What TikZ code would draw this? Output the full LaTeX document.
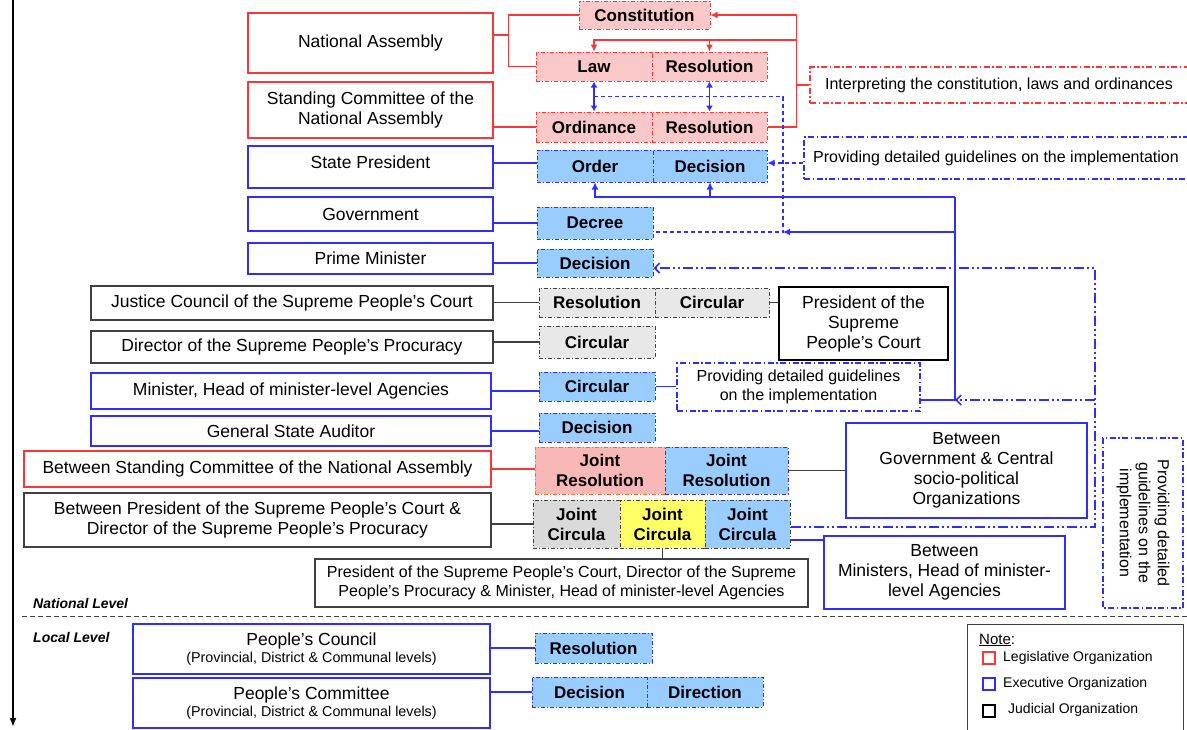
\documentclass[tikz,border=0pt]{standalone}
\usepackage{fontspec}
\setmainfont{Liberation Sans}
\usetikzlibrary{arrows.meta,calc}
\definecolor{lred}{HTML}{FF3434}
\definecolor{lblue}{HTML}{2E2EFF}
\definecolor{pinkf}{HTML}{FAC8C8}
\definecolor{bluef}{HTML}{99CCFF}
\definecolor{grayf}{HTML}{E8E8E8}
\definecolor{grayf2}{HTML}{DADADA}
\definecolor{yellowf}{HTML}{FFFF66}
\definecolor{jpink}{HTML}{F8B8B8}
\definecolor{orangeb}{HTML}{FF6A2A}
\definecolor{dgray}{HTML}{404040}
\begin{document}
\begin{tikzpicture}[x=1pt,y=-1pt,
  every node/.style={inner sep=0pt, align=center},
  ft/.style={font=\fontsize{17.5}{20}\selectfont},
  org/.style={draw, line width=1.3pt, ft},
  orgr/.style={org, draw=lred},
  orgb/.style={org, draw=lblue},
  orgk/.style={org, draw=dgray},
  doc/.style={draw, line width=1pt, dash pattern=on 4pt off 2pt on 1pt off 2pt, font=\bfseries\fontsize{17}{20}\selectfont},
  docr/.style={doc, draw=lred, fill=pinkf},
  docb/.style={doc, draw=lblue, fill=bluef},
  docg/.style={doc, draw=dgray, fill=grayf},
  notebox/.style={draw, line width=1.1pt, dash pattern=on 6pt off 2.5pt on 1.5pt off 2.5pt, font=\fontsize{16}{19}\selectfont},
  rl/.style={draw=lred, line width=1.2pt},
  bl/.style={draw=lblue, line width=1.2pt},
  gl/.style={draw=dgray, line width=1.2pt},
  bdash/.style={draw=lblue, line width=1.2pt, dash pattern=on 4pt off 3pt},
  bdd/.style={draw=lblue, line width=1.6pt, dash pattern=on 10pt off 3pt on 2pt off 3pt on 2pt off 3pt},
  rtip/.style={-{Latex[length=7pt,width=7pt]}},
  btip/.style={-{Straight Barb[length=5pt,width=10pt]}},
  sub/.style={font=\fontsize{14.3}{16}\selectfont},
]
\useasboundingbox (0,0) rectangle (1187,729);

% ---------- organisations ----------
\node[orgr, minimum width=245pt, minimum height=60pt] (na) at (370.5,43) {National Assembly};
\node[orgr, minimum width=245pt, minimum height=56pt] (sc) at (370.5,110) {Standing Committee of the\\National Assembly};
\node[orgb, minimum width=245pt, minimum height=42pt, text depth=10pt] (sp) at (370.5,167) {State President};
\node[orgb, minimum width=245pt, minimum height=34pt] (gov) at (370.5,214) {Government};
\node[orgb, minimum width=245pt, minimum height=31pt] (pm) at (370.5,258.5) {Prime Minister};
\node[orgk, minimum width=402pt, minimum height=34pt] (jc) at (292,303) {Justice Council of the Supreme People’s Court};
\node[orgk, minimum width=402pt, minimum height=32pt] (dir) at (292,347) {Director of the Supreme People’s Procuracy};
\node[orgb, minimum width=400pt, minimum height=36pt] (min) at (291,391) {Minister, Head of minister-level Agencies};
\node[orgb, minimum width=400pt, minimum height=30pt] (gsa) at (291,431) {General State Auditor};
\node[orgr, minimum width=467pt, minimum height=36pt] (bsc) at (257.5,469) {Between Standing Committee of the National Assembly};
\node[orgk, minimum width=467pt, minimum height=54pt] (bpc) at (257.5,520) {Between President of the Supreme People’s Court \&\\Director of the Supreme People’s Procuracy};
\node[orgk, minimum width=493pt, minimum height=48pt, font=\fontsize{16}{19}\selectfont] (pres3) at (561.5,583) {President of the Supreme People’s Court, Director of the Supreme\\People’s Procuracy \& Minister, Head of minister-level Agencies};
\node[orgb, line width=2.4pt, minimum width=357pt, minimum height=50pt] (pcouncil) at (311.5,649) {People’s Council\\[-3pt]{\fontsize{14.3}{16}\selectfont (Provincial, District \& Communal levels)}};
\node[orgb, line width=2.4pt, minimum width=357pt, minimum height=50pt] (pcommittee) at (311.5,703) {People’s Committee\\[-3pt]{\fontsize{14.3}{16}\selectfont (Provincial, District \& Communal levels)}};

% ---------- documents ----------
\node[docr, minimum width=131pt, minimum height=28pt] (const) at (644.5,15) {Constitution};
\node[docr, minimum width=116pt, minimum height=29pt] (law) at (594,66.5) {Law};
\node[docr, minimum width=115pt, minimum height=29pt] (res1) at (709.5,66.5) {Resolution};
\node[docr, minimum width=116pt, minimum height=30pt] (ord) at (594,127) {Ordinance};
\node[docr, minimum width=115pt, minimum height=30pt] (res2) at (709.5,127) {Resolution};
\node[docb, minimum width=116pt, minimum height=32pt] (order) at (595,166) {Order};
\node[docb, minimum width=114pt, minimum height=32pt] (dec1) at (710,166) {Decision};
\node[docb, minimum width=116pt, minimum height=32pt] (decree) at (595,223) {Decree};
\node[docb, minimum width=116pt, minimum height=28pt] (dec2) at (595,263) {Decision};
\node[docg, minimum width=116pt, minimum height=29pt] (res3) at (597,302.5) {Resolution};
\node[docg, minimum width=114pt, minimum height=29pt] (circ1) at (712,302.5) {Circular};
\node[docg, minimum width=116pt, minimum height=32pt] (circ2) at (597,342) {Circular};
\node[docb, minimum width=116pt, minimum height=29pt] (circ3) at (597,386.5) {Circular};
\node[docb, minimum width=116pt, minimum height=29pt] (dec3) at (597,427.5) {Decision};
\node[doc, draw=orangeb, fill=jpink, minimum width=130pt, minimum height=47pt] (jres1) at (600,470.5) {Joint\\Resolution};
\node[docb, minimum width=123pt, minimum height=47pt] (jres2) at (726.5,470.5) {Joint\\Resolution};
\node[doc, draw=dgray, fill=grayf2, minimum width=87pt, minimum height=48pt] (jc1) at (576.5,524) {Joint\\Circula};
\node[doc, draw=dgray, fill=yellowf, minimum width=85pt, minimum height=48pt] (jc2) at (662.5,524) {Joint\\Circula};
\node[doc, draw=dgray, fill=bluef, minimum width=85pt, minimum height=48pt] (jc3) at (747.5,524) {Joint\\Circula};
\node[docb, minimum width=117pt, minimum height=30pt] (lres) at (593.5,648) {Resolution};
\node[docb, minimum width=115pt, minimum height=30pt] (ldec) at (589.5,692) {Decision};
\node[docb, minimum width=116pt, minimum height=30pt] (ldir) at (705,692) {Direction};

% ---------- notes ----------
\node[notebox, draw=lred, minimum width=378pt, minimum height=36pt] (interp) at (999,85) {Interpreting the constitution, laws and ordinances};
\node[notebox, draw=lblue, minimum width=384pt, minimum height=42pt] (prov1) at (996,158) {Providing detailed guidelines on the implementation};
\node[draw=black, line width=2.4pt, ft, minimum width=169pt, minimum height=73pt] (spc) at (863.5,323.5) {President of the\\Supreme\\People’s Court};
\node[notebox, draw=lblue, minimum width=243pt, minimum height=48pt] (prov2) at (798.5,387) {Providing detailed guidelines\\on the implementation};
\node[orgb, line width=1.3pt, minimum width=241pt, minimum height=95pt] (bgov) at (966.5,470.5) {Between\\Government \& Central\\socio-political\\Organizations};
\node[orgb, line width=1.3pt, minimum width=241pt, minimum height=73pt] (bmin) at (944.5,572.5) {Between\\Ministers, Head of minister-\\level Agencies};
\node[notebox, draw=lblue, rotate=-90, minimum width=170pt, minimum height=80pt] (prov3) at (1143,523) {Providing detailed\\guidelines on the\\implementation};

% ---------- legend ----------
\node[draw=dgray, line width=1.2pt, anchor=north west, minimum width=216pt, minimum height=115pt] (note) at (967,624) {};
\node[anchor=west, font=\fontsize{15}{17}\selectfont] (notet) at (979,640) {\underline{Note}:};
\node[draw=lred, line width=2pt, minimum size=12.5pt] (sqr) at (989,658) {};
\node[draw=lblue, line width=2pt, minimum size=12.5pt] (sqb) at (989,684) {};
\node[draw=black, line width=2pt, minimum size=12.5pt] (sqk) at (989,711) {};
\node[anchor=west, font=\fontsize{14}{16}\selectfont] (lt1) at (1003,658) {Legislative Organization};
\node[anchor=west, font=\fontsize{14}{16}\selectfont] (lt2) at (1003,684) {Executive Organization};
\node[anchor=west, font=\fontsize{14}{16}\selectfont] (lt3) at (1008,710) {Judicial Organization};

% ---------- levels ----------
\coordinate (atop) at (13,0);
\coordinate (abot) at (13,727);
\draw[line width=1.8pt, -{Latex[length=9pt,width=7pt]}] (atop) -- (abot);
\coordinate (s1) at (22,616);
\coordinate (s2) at (1187,616);
\draw[dgray, line width=1pt, dash pattern=on 5pt off 3pt] (s1) -- (s2);
\node[anchor=west, font=\bfseries\itshape\fontsize{14}{16}\selectfont] (natl) at (33,603) {National Level};
\node[anchor=west, font=\bfseries\itshape\fontsize{14}{16}\selectfont] (locl) at (33,637) {Local Level};

% ---------- red connectors ----------
\coordinate (j1) at ($(na.east)+(15,-8)$);
\draw[rl] ([yshift=8pt]na.east) -- (j1);
\draw[rl] (const.west) -| (j1) |- (law.west);
\draw[rl] (sc.east |- ord.west) -- (ord.west);
\coordinate (rv) at ($(const.east)+(86,0)$);
\draw[rl, rtip] (res2.east) -| (rv) -- (const.east);
\coordinate (rm) at (rv |- 0,40);
\draw[rl, rtip] (rm) -| (law.north);
\draw[rl, rtip] (res1.north |- rm) -- (res1.north);
\draw[rl] (interp.west -| rv) -- (interp.west);
\draw[rl] (bsc.east) -- (bsc.east -| jres1.west);

% ---------- blue connectors ----------
\draw[bl, {Latex[length=6pt,width=7pt]}-{Latex[length=6pt,width=7pt]}] (law.south) -- (ord.north);
\draw[bl, {Latex[length=6pt,width=7pt]}-{Latex[length=6pt,width=7pt]}] (res1.south) -- (res2.north);
\coordinate (mid) at ($(law.south)!0.5!(ord.north)$);
\coordinate (dd) at ([yshift=-9pt]decree.east);
\coordinate (xv) at (783,0);
\draw[bdash] (mid) -| (xv |- dd) -- (dd);
\draw[bdash, -{Latex[length=7pt,width=7pt]}] (prov1.west |- 0,163) -- (dec1.east |- 0,163);

\coordinate (bv) at (955,197);
\draw[bl, -{Latex[length=7pt,width=7pt]}] (bv) -| (order.south);
\draw[bl, -{Latex[length=7pt,width=7pt]}] (dec1.south |- bv) -- (dec1.south);
\coordinate (p2e) at ([yshift=-13pt]prov2.east);
\draw[bl] (bv) -- (bv |- p2e) -- (p2e);
\draw[bl, -{Latex[length=7pt,width=7pt]}] (bv |- dd) -- (xv |- dd);

\coordinate (lv) at (1095,0);
\coordinate (d2e) at ([yshift=-5pt]dec2.east);
\coordinate (j3e) at ([yshift=-3pt]jc3.east);
\draw[bdd, btip] (j3e) -| (lv |- d2e) -- (d2e);
\draw[bdd, btip] (lv |- p2e) -- (bv |- p2e);

\draw[bl] (sp.east |- 0,163) -- (order.west |- 0,163);
\draw[bl] (gov.east |- decree.west) -- (decree.west);
\draw[bl] (pm.east |- dec2.west) -- (dec2.west);
\draw[bl] (min.east) -- (min.east -| circ3.west);
\draw[bl] (gsa.east) -- (gsa.east -| dec3.west);
\draw[bl] (circ3.east) -- (circ3.east -| prov2.west);
\coordinate (j3m) at ([yshift=-16pt]jc3.east);
\draw[bl] (j3m) -- (j3m -| bmin.west);
\draw[bl] (pcouncil.east |- lres.west) -- (lres.west);
\draw[bl] (pcommittee.east |- ldec.west) -- (ldec.west);

% ---------- grey connectors ----------
\draw[gl] (jc.east |- res3.west) -- (res3.west);
\draw[gl] (dir.east |- circ2.west) -- (circ2.west);
\draw[gl] (circ1.east) -- (circ1.east -| spc.west);
\draw[gl] (jres2.east) -- (jres2.east -| bgov.west);
\draw[gl] (bpc.east |- jc1.west) -- (jc1.west);
\draw[gl] (jc2.south) -- (jc2.south |- pres3.north);
\end{tikzpicture}
\end{document}
